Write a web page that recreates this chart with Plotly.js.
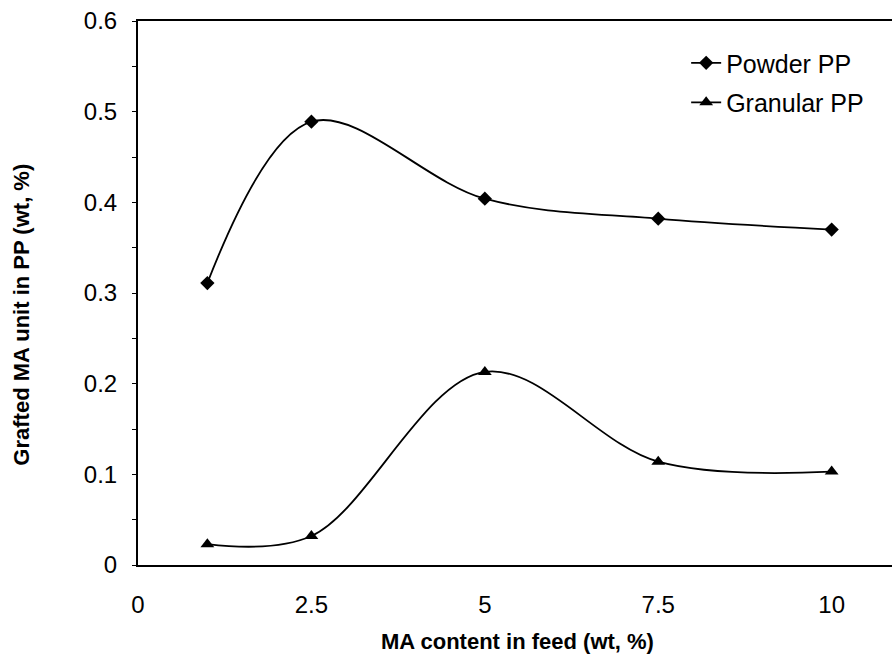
<!DOCTYPE html>
<html>
<head>
<meta charset="utf-8">
<script src="https://cdn.plot.ly/plotly-3.0.1.min.js"></script>
<style>html,body{margin:0;padding:0;background:#fff;}#chart{width:892px;height:657px;}</style>
</head>
<body>
<div id="chart"></div>
<script>
const maContent = [1, 2.5, 5, 7.5, 10];
const powderPP = [0.311, 0.489, 0.404, 0.382, 0.370];
const granularPP = [0.023, 0.032, 0.213, 0.114, 0.103];
const seriesNames = ["Powder PP", "Granular PP"];
const xTickVals = [0, 2.5, 5, 7.5, 10];
const xTickText = ["0", "2.5", "5", "7.5", "10"];
const yTickVals = [0, 0.1, 0.2, 0.3, 0.4, 0.5, 0.6];
const yTickText = ["0", "0.1", "0.2", "0.3", "0.4", "0.5", "0.6"];
const xTitle = "MA content in feed (wt, %)";
const yTitle = "Grafted MA unit in PP (wt, %)";

const font = "Liberation Sans, Arial, sans-serif";

const traces = [
  {
    x: maContent, y: powderPP, name: seriesNames[0], type: "scatter", mode: "lines+markers",
    legendgroup: "a",
    line: {color: "#000", width: 1.8, shape: "spline", smoothing: 1},
    marker: {symbol: "diamond", size: 11, color: "#000"}
  },
  {
    x: maContent, y: granularPP, name: seriesNames[1], type: "scatter", mode: "lines+markers",
    legendgroup: "b",
    line: {color: "#000", width: 1.8, shape: "spline", smoothing: 1},
    marker: {symbol: "triangle-up", size: 12, color: "#000"}
  }
];

const layout = {
  width: 892, height: 657,
  margin: {l: 138, r: 0, t: 21, b: 92},
  paper_bgcolor: "#fff", plot_bgcolor: "#fff",
  font: {family: font, color: "#000"},
  showlegend: true,
  legend: {
    x: 0.727, y: 0.965, xanchor: "left", yanchor: "top",
    font: {family: font, size: 25, color: "#000"},
    bgcolor: "rgba(0,0,0,0)", borderwidth: 0,
    traceorder: "grouped", tracegroupgap: 4
  },
  xaxis: {
    range: [0, 10.87], showgrid: false, zeroline: false,
    showline: true, linecolor: "#000", linewidth: 2, mirror: true,
    ticks: "", tickmode: "array", tickvals: xTickVals, ticktext: xTickText,
    tickfont: {family: font, size: 24, color: "#000"},
    ticklabelstandoff: 17
  },
  yaxis: {
    range: [0, 0.6], showgrid: false, zeroline: false,
    showline: true, linecolor: "#000", linewidth: 2, mirror: false,
    ticks: "outside", ticklen: 4, tickcolor: "#000", tickwidth: 1,
    tickmode: "array", tickvals: yTickVals, ticktext: yTickText,
    minor: {dtick: 0.05, ticks: "outside", ticklen: 4, tickcolor: "#000"},
    tickfont: {family: font, size: 24, color: "#000"},
    ticklabelstandoff: 10
  },
  annotations: [
    {text: "<b>" + xTitle + "</b>", xref: "paper", yref: "paper", x: 0.503, y: -0.14,
     xanchor: "center", yanchor: "middle", showarrow: false,
     font: {family: font, size: 22, color: "#000"}},
    {text: "<b>" + yTitle + "</b>", xref: "paper", yref: "paper", x: -0.154, y: 0.46,
     xanchor: "center", yanchor: "middle", showarrow: false, textangle: -90,
     font: {family: font, size: 22, color: "#000"}}
  ]
};

Plotly.newPlot("chart", traces, layout, {displayModeBar: false, staticPlot: true});
</script>
</body>
</html>
